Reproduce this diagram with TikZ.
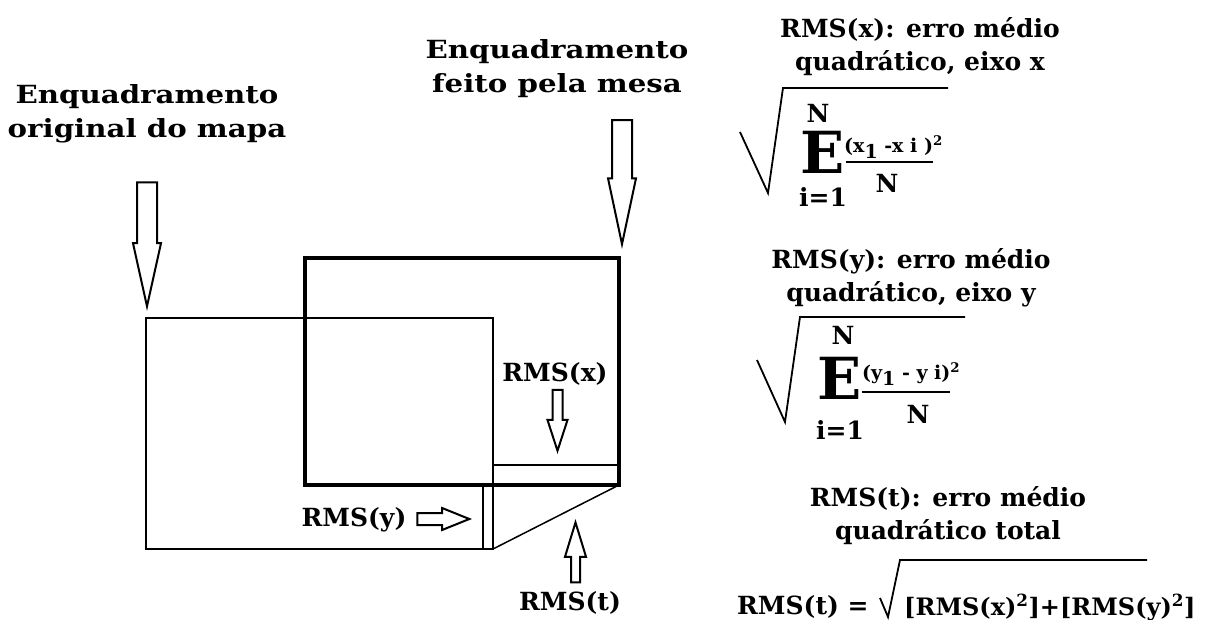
\documentclass[tikz,border=0pt]{standalone}
\usepackage{fontspec}
\setmainfont{DejaVu Serif}
\newfontfamily\widefont[FakeStretch=1.17]{DejaVu Serif}
\usetikzlibrary{shapes.arrows,positioning}

\begin{document}
\begin{tikzpicture}[x=1pt, y=-1pt,
    lbl/.style={font=\bfseries\fontsize{25}{33}\selectfont, align=center, inner sep=0pt},
    head/.style={lbl, font=\widefont\bfseries\fontsize{25}{34}\selectfont},
    sigma/.style={font=\bfseries\fontsize{58}{58}\selectfont, inner sep=0pt},
    numer/.style={font=\bfseries\fontsize{19}{19}\selectfont, inner sep=0pt, anchor=west},
    hollow/.style={single arrow, draw, line width=2pt, inner sep=0pt, text depth=0pt, anchor=tip},
    thinline/.style={line width=1.2pt},
    heavyline/.style={line width=4pt},
    radical/.style={line width=1.8pt, line join=miter},
]
    \useasboundingbox (0,0) rectangle (1205,620);
    % Frames
    \draw[thinline] (146,318) rectangle (493,549);
    \draw[thinline] (483,485) -- (483,549);
    \draw[heavyline] (305,258) rectangle (619,485);
    \draw[line width=2pt] (493,465) -- (619,465);
    \draw[line width=1.5pt] (493,549) -- (619,485);
    % Block arrows
    \node[hollow, text height=18pt, single arrow head extend=4pt, single arrow tip angle=25,
          minimum height=124pt, rotate=-90] (aorig) at (147,311) {};
    \node[hollow, text height=18pt, single arrow head extend=4pt, single arrow tip angle=24,
          minimum height=124pt, rotate=-90] (amesa) at (622,249) {};
    \node[hollow, text height=8pt, single arrow head extend=5pt, single arrow tip angle=36,
          minimum height=61pt, rotate=-90] (ax) at (557.5,454) {};
    \node[hollow, text height=10pt, single arrow head extend=5pt, single arrow tip angle=44,
          minimum height=52pt] (ay) at (472,519) {};
    \node[hollow, text height=7pt, single arrow head extend=6pt, single arrow tip angle=34,
          minimum height=60pt, rotate=90] (at) at (575.5,519) {};
    % Labels
    \node[head] (orig) at (147,114) {Enquadramento\\original do mapa};
    \node[head] (mesa) at (557,69) {Enquadramento\\feito pela mesa};
    \node[lbl] (lx) at (555,374) {RMS(x)};
    \node[lbl] (ly) at (354,520) {RMS(y)};
    \node[lbl] (lt) at (570,603) {RMS(t)};
    % RMS(x)
    \node[lbl] (tx) at (920,47) {RMS(x): erro médio\\quadrático, eixo x};
    \draw[radical] (740,132) -- (768,193) -- (783,88) -- (948,88);
    \node[lbl] (nx) at (818,113) {N};
    \node[sigma] (ex) at (823,152) {E};
    \node[lbl] (ix) at (823,197) {i=1};
    \node[numer] (fx) at (844,147) {(x\raisebox{-6pt}{1} -x i )\textsuperscript{2}};
    \draw[line width=1.5pt] (846,162) -- (933,162);
    \node[lbl] (dx) at (887,183) {N};
    % RMS(y)
    \node[lbl] (ty) at (911,278) {RMS(y): erro médio\\quadrático, eixo y};
    \draw[radical] (757,360) -- (785,422) -- (800,317) -- (965,317);
    \node[lbl] (ny) at (843,335) {N};
    \node[sigma] (ey) at (840,378) {E};
    \node[lbl] (iy) at (840,430) {i=1};
    \node[numer] (fy) at (862,374) {(y\raisebox{-6pt}{1} - y i)\textsuperscript{2}};
    \draw[line width=1.5pt] (862,392) -- (950,392);
    \node[lbl] (dy) at (918,414) {N};
    % RMS(t)
    \node[lbl] (tt) at (948,516) {RMS(t): erro médio\\quadrático total};
    \node[lbl, anchor=west] (rt) at (737,607) {RMS(t) =};
    \draw[radical] (880,598) -- (888,617) -- (900,560) -- (1147,560);
    \node[lbl, anchor=west, font=\bfseries\fontsize{24}{24}\selectfont] (st) at (904,607)
        {[RMS(x)\textsuperscript{2}]+[RMS(y)\textsuperscript{2}]};
\end{tikzpicture}
\end{document}
